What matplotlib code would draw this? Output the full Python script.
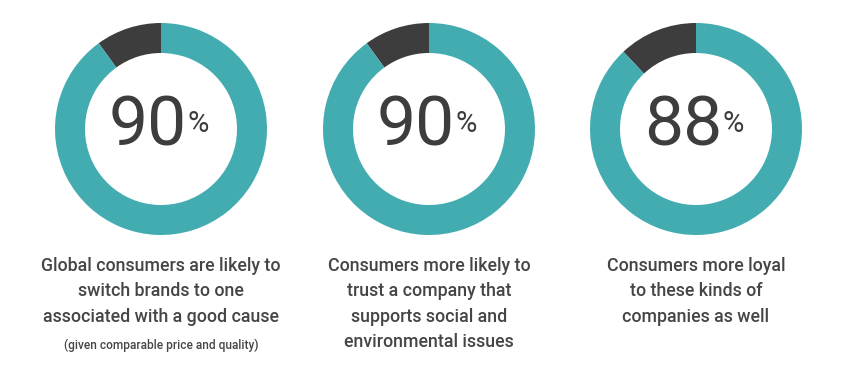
import matplotlib
matplotlib.use("Agg")
import matplotlib.pyplot as plt

values = [90, 90, 88]
labels = [
    "Global consumers are likely to\nswitch brands to one\nassociated with a good cause",
    "Consumers more likely to\ntrust a company that\nsupports social and\nenvironmental issues",
    "Consumers more loyal\nto these kinds of\ncompanies as well",
]
notes = ["(given comparable price and quality)", "", ""]

teal = "#43acb0"
dark = "#3d3d3d"
text_col = "#454545"

W, H = 853, 385
fig = plt.figure(figsize=(W / 100, H / 100), dpi=100)
ax = fig.add_axes([0, 0, 1, 1])

centers_x = [161, 429, 696]
cy = H - 129
R = 106
ring = 30

for cx, v, lab, note in zip(centers_x, values, labels, notes):
    ax.pie([100 - v, v], colors=[dark, teal], startangle=90, counterclock=True,
           radius=R, center=(cx, cy), wedgeprops=dict(width=ring, linewidth=0),
           frame=True)
    ax.text(cx + 26, cy + 2, str(v), ha="right", va="center", fontsize=50,
            color=dark, family="Roboto", fontweight="normal")
    ax.text(cx + 27, cy + 5, "%", ha="left", va="center", fontsize=21,
            color=dark, family="Roboto", fontweight="normal")
    ax.text(cx, H - 257, lab, ha="center", va="top", fontsize=12.8,
            color=text_col, family="Roboto", fontweight="medium",
            linespacing=1.52)
    if note:
        ax.text(cx, H - 345, note, ha="center", va="center", fontsize=8.6,
                color=text_col, family="Roboto", fontweight="medium")

ax.set_xlim(0, W)
ax.set_ylim(0, H)
ax.set_aspect("equal")
ax.axis("off")
fig.savefig("out.png", dpi=100)
